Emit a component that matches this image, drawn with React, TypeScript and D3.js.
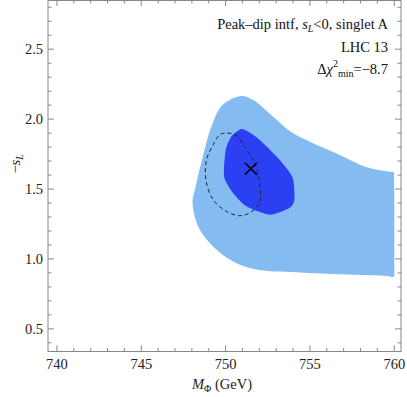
import React from "react";
import * as d3 from "d3";

// 95% region (light blue), mass in GeV vs -s_L
const outerMass = [750.93, 751.62, 752.8, 753.98, 755.16, 756.74, 758.31, 759.6, 760.0, 760.0, 760.0, 759.6, 757.13, 754.18, 751.82, 750.42, 749.24, 748.37, 748.04, 748.18, 748.65, 749.16, 749.83];
const outerSL = [2.166, 2.138, 2.019, 1.9, 1.829, 1.745, 1.657, 1.625, 1.616, 1.58, 0.875, 0.878, 0.888, 0.904, 0.924, 0.983, 1.09, 1.233, 1.411, 1.495, 1.733, 1.947, 2.102];

// 68% region (dark blue)
const innerMass = [750.93, 751.42, 752.01, 753.2, 753.98, 754.08, 753.79, 752.6, 751.23, 750.44, 749.91, 750.01, 750.34];
const innerSL = [1.929, 1.904, 1.852, 1.709, 1.579, 1.424, 1.364, 1.316, 1.376, 1.471, 1.59, 1.781, 1.876];

// dashed contour
const dashMass = [749.95, 750.54, 751.13, 751.72, 752.01, 752.01, 751.42, 750.83, 750.05, 749.26, 748.83, 748.87, 749.26, 749.65];
const dashSL = [1.9, 1.888, 1.804, 1.686, 1.543, 1.4, 1.329, 1.309, 1.34, 1.424, 1.566, 1.709, 1.816, 1.888];

const bestFit = { mass: 751.5, sL: 1.645 };

const xTicks = [740, 745, 750, 755, 760];
const yTicks = [0.5, 1.0, 1.5, 2.0, 2.5];

const W = 407;
const H = 397;
const frame = { left: 48, right: 401, top: 0, bottom: 351.5 };

export default function App() {
  const x = d3.scaleLinear().domain([739.47, 760.4]).range([frame.left, frame.right]);
  const y = d3.scaleLinear().domain([2.852, 0.338]).range([frame.top, frame.bottom]);

  const smooth = d3
    .line<[number, number]>()
    .x((d) => x(d[0]))
    .y((d) => y(d[1]))
    .curve(d3.curveCatmullRomClosed.alpha(0.5));
  const soft = d3
    .line<[number, number]>()
    .x((d) => x(d[0]))
    .y((d) => y(d[1]))
    .curve(d3.curveCardinalClosed.tension(0.35));

  const outer = outerMass.map((m, i) => [m, outerSL[i]] as [number, number]);
  const inner = innerMass.map((m, i) => [m, innerSL[i]] as [number, number]);
  const dash = dashMass.map((m, i) => [m, dashSL[i]] as [number, number]);

  const xMinor = d3.range(740, 761, 1).filter((v) => v % 5 !== 0);
  const yMinor = d3.range(4, 29).map((v) => v / 10).filter((v) => Math.round(v * 10) % 5 !== 0);

  const axisCol = "#888";
  const font = "'Liberation Serif', 'DejaVu Serif', serif";
  const bx = x(bestFit.mass);
  const by = y(bestFit.sL);

  return (
    <svg width={W} height={H} style={{ position: "absolute", left: 0, top: 0, background: "#fff" }} fontFamily={font}>
      <defs>
        <clipPath id="plotclip">
          <rect x={frame.left} y={frame.top} width={x(760) - frame.left} height={frame.bottom - frame.top} />
        </clipPath>
      </defs>
      <g clipPath="url(#plotclip)">
        <path d={smooth(outer) ?? ""} fill="#84bcf2" />
        <path d={soft(inner) ?? ""} fill="#2b40f2" />
        <path d={smooth(dash) ?? ""} fill="none" stroke="#222" strokeWidth={1} strokeDasharray="4,3" />
        <g stroke="#000" strokeWidth={1.6}>
          <line x1={bx - 6} y1={by - 6} x2={bx + 6} y2={by + 6} />
          <line x1={bx - 6} y1={by + 6} x2={bx + 6} y2={by - 6} />
        </g>
      </g>

      {/* frame */}
      <rect x={frame.left} y={frame.top + 0.5} width={frame.right - frame.left} height={frame.bottom - frame.top - 0.5} fill="none" stroke={axisCol} strokeWidth={1} />

      {/* ticks on all four sides */}
      <g stroke={axisCol} strokeWidth={1}>
        {xTicks.map((t) => (
          <g key={"xt" + t}>
            <line x1={x(t)} x2={x(t)} y1={frame.bottom} y2={frame.bottom - 6} />
            <line x1={x(t)} x2={x(t)} y1={frame.top} y2={frame.top + 6} />
          </g>
        ))}
        {xMinor.map((t) => (
          <g key={"xm" + t}>
            <line x1={x(t)} x2={x(t)} y1={frame.bottom} y2={frame.bottom - 3.5} />
            <line x1={x(t)} x2={x(t)} y1={frame.top} y2={frame.top + 3.5} />
          </g>
        ))}
        {yTicks.map((t) => (
          <g key={"yt" + t}>
            <line x1={frame.left} x2={frame.left + 6} y1={y(t)} y2={y(t)} />
            <line x1={frame.right} x2={frame.right - 6} y1={y(t)} y2={y(t)} />
          </g>
        ))}
        {yMinor.map((t) => (
          <g key={"ym" + t}>
            <line x1={frame.left} x2={frame.left + 3.5} y1={y(t)} y2={y(t)} />
            <line x1={frame.right} x2={frame.right - 3.5} y1={y(t)} y2={y(t)} />
          </g>
        ))}
      </g>

      {/* tick labels */}
      <g fontSize={14.5} fill="#222">
        {xTicks.map((t) => (
          <text key={"xl" + t} x={x(t)} y={frame.bottom + 17} textAnchor="middle">
            {t}
          </text>
        ))}
        {yTicks.map((t) => (
          <text key={"yl" + t} x={frame.left - 5} y={y(t) + 5} textAnchor="end">
            {t.toFixed(1)}
          </text>
        ))}
      </g>

      {/* axis labels */}
      <text x={222} y={389} textAnchor="middle" fontSize={14.5} fill="#222">
        <tspan fontStyle="italic">M</tspan>
        <tspan fontSize={10} dy={3}>Φ</tspan>
        <tspan dy={-3}> (GeV)</tspan>
      </text>
      <text transform={`translate(20,${y(1.68)}) rotate(-90)`} textAnchor="middle" fontSize={14.5} fill="#222">
        <tspan>−</tspan>
        <tspan fontStyle="italic">s</tspan>
        <tspan fontStyle="italic" fontSize={10} dy={3}>L</tspan>
      </text>

      {/* annotation */}
      <g fontSize={14.5} fill="#111" textAnchor="end">
        <text x={388} y={29}>
          Peak–dip intf, <tspan fontStyle="italic">s</tspan>
          <tspan fontStyle="italic" fontSize={10} dy={3}>L</tspan>
          <tspan dy={-3}>{"<0, singlet A"}</tspan>
        </text>
        <text x={388} y={52}>LHC 13</text>
        <text x={388} y={74}>
          Δ<tspan fontStyle="italic">χ</tspan>
          <tspan fontSize={10} dy={-7}>2</tspan>
          <tspan fontSize={10} dy={10}>min</tspan>
          <tspan dy={-3}>=−8.7</tspan>
        </text>
      </g>
    </svg>
  );
}
